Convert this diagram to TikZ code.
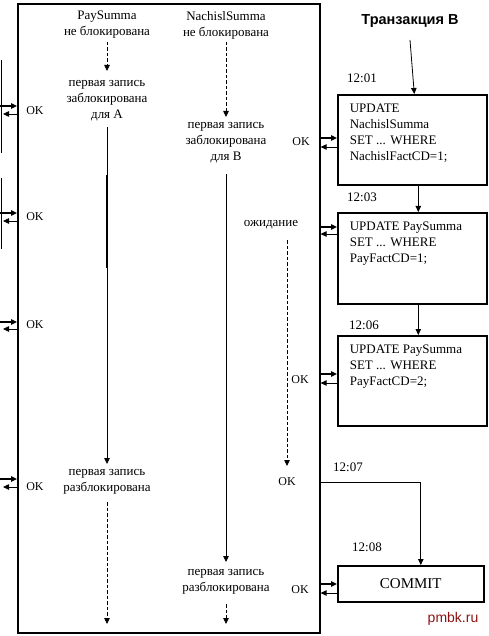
\documentclass[tikz,border=0pt]{standalone}
\usepackage{fontspec}
\setmainfont{Liberation Serif}
\newfontfamily\lsans{Liberation Sans}
\usetikzlibrary{arrows.meta}
\definecolor{pmbkred}{RGB}{140,20,20}
\begin{document}
\begin{tikzpicture}[x=1pt,y=-1pt,
  txt/.style={font=\fontsize{13}{16}\selectfont, align=center, inner sep=0},
  lab/.style={font=\fontsize{12}{14}\selectfont, inner sep=0},
  conn/.style={line width=0.8pt, -{Triangle[length=6pt,width=5.5pt]}},
  dconn/.style={conn, dash pattern=on 3.5pt off 2pt},
  thickin/.style={line width=1.5pt, -{Triangle[length=6pt,width=5.5pt]}},
  upd/.style={draw, line width=1.6pt, inner sep=0, minimum width=149pt, anchor=north west,
    font=\fontsize{13}{16}\selectfont}
]
\path[use as bounding box] (0,0) rectangle (489,636);

% main box (transaction timeline area)
\node[draw, line width=1.6pt, anchor=north west, minimum width=302pt, minimum height=629pt, inner sep=0] (main) at (17,3) {};

% fragments of the left-hand boxes
\draw[line width=0.8pt] (1,60) -- (1,153);
\draw[line width=0.8pt] (1,178) -- (1,249);

% left OK arrows
\foreach \i/\a/\b in {1/106/114, 2/213/221, 3/322/329, 4/479/487} {
  \coordinate (lin\i) at (0,\a);
  \coordinate (lout\i) at (3,\b);
  \draw[thickin] (lin\i) -- (main.west |- lin\i);
  \draw[conn] (main.west |- lout\i) -- (lout\i);
}
\node[lab] (okL1) at (35,111) {OK};
\node[lab] (okL2) at (35,217) {OK};
\node[lab] (okL3) at (35,325) {OK};
\node[lab] (okL4) at (35,487) {OK};

% column A (PaySumma)
\node[txt] (pA) at (107,25) {PaySumma\\не блокирована};
\node[txt] (zA) at (107,101) {первая запись\\заблокирована\\для А};
\node[txt] (uA) at (107,482) {первая запись\\разблокирована};
\coordinate (endA) at (107,624);
\draw[dconn] (pA.south |- 0,42) -- (zA.north |- 0,71);
\draw[conn] (zA.south |- 0,127) -- (uA.north |- 0,464);
\draw[line width=2pt] (zA.south |- 0,175) -- (zA.south |- 0,268);
\draw[dconn] (uA.south |- 0,502) -- (endA);

% column B (NachislSumma)
\node[txt] (nB) at (226,25) {NachislSumma\\не блокирована};
\node[txt] (zB) at (226,143) {первая запись\\заблокирована\\для В};
\node[txt] (uB) at (226,582) {первая запись\\разблокирована};
\coordinate (endB) at (226,624);
\draw[dconn] (nB.south |- 0,42) -- (zB.north |- 0,117);
\draw[conn] (zB.south |- 0,174) -- (uB.north |- 0,562);
\draw[dconn] (uB.south |- 0,604) -- (endB);

% waiting
\node[txt] (wait) at (271,225) {ожидание};
\node[lab] (okW) at (287,482) {OK};
\draw[dconn] (okW.north |- 0,240) -- (okW.north |- 0,466);

% transaction B
\node[font=\lsans\bfseries\fontsize{14.5}{16}\selectfont, inner sep=0] (title) at (410,21) {Транзакция В};
\node[upd, minimum height=90pt] (b1) at (337,94)
  {\parbox[c][71pt][t]{125pt}{UPDATE\\NachislSumma\\SET ... WHERE\\NachislFactCD=1;}};
\node[upd, minimum height=91pt] (b2) at (337,212)
  {\parbox[c][72pt][t]{125pt}{UPDATE PaySumma\\SET ... WHERE\\PayFactCD=1;}};
\node[upd, minimum height=90pt] (b3) at (337,335)
  {\parbox[c][71pt][t]{125pt}{UPDATE PaySumma\\SET ... WHERE\\PayFactCD=2;}};
\node[draw, line width=1.6pt, inner sep=0, minimum width=146pt, minimum height=36pt, anchor=north west,
  font=\fontsize{15}{18}\selectfont] (cm) at (337,565) {COMMIT};

\draw[conn] (title.south |- 0,40) -- ([xshift=2pt]b1.north);
\draw[conn] ([xshift=6pt]b1.south) -- ([xshift=6pt]b2.north);
\draw[conn] ([xshift=6pt]b2.south) -- ([xshift=6pt]b3.north);
\draw[conn] (main.east |- 0,482) -| ([xshift=10pt]cm.north);

% time labels
\node[lab, font=\fontsize{13}{15}\selectfont] (t1) at (362,78) {12:01};
\node[lab, font=\fontsize{13}{15}\selectfont] (t3) at (362,197) {12:03};
\node[lab, font=\fontsize{13}{15}\selectfont] (t6) at (364,325) {12:06};
\node[lab, font=\fontsize{13}{15}\selectfont] (t7) at (348,467) {12:07};
\node[lab, font=\fontsize{13}{15}\selectfont] (t8) at (367,547) {12:08};

% arrows between main box and transaction B boxes
\foreach \bx/\a/\b in {b1/138/147, b2/227/234, b3/374/383, cm/584/593} {
  \draw[thickin] (main.east |- 0,\a) -- (\bx.west |- 0,\a);
  \draw[conn] (\bx.west |- 0,\b) -- (main.east |- 0,\b);
}
\node[lab] (okR1) at (301,142) {OK};
\node[lab] (okR3) at (300,380) {OK};
\node[lab] (okR4) at (300,590) {OK};

% watermark
\node[font=\lsans\fontsize{14}{16}\selectfont, text=pmbkred, inner sep=0] (wm) at (453,619) {pmbk.ru};
\end{tikzpicture}
\end{document}
